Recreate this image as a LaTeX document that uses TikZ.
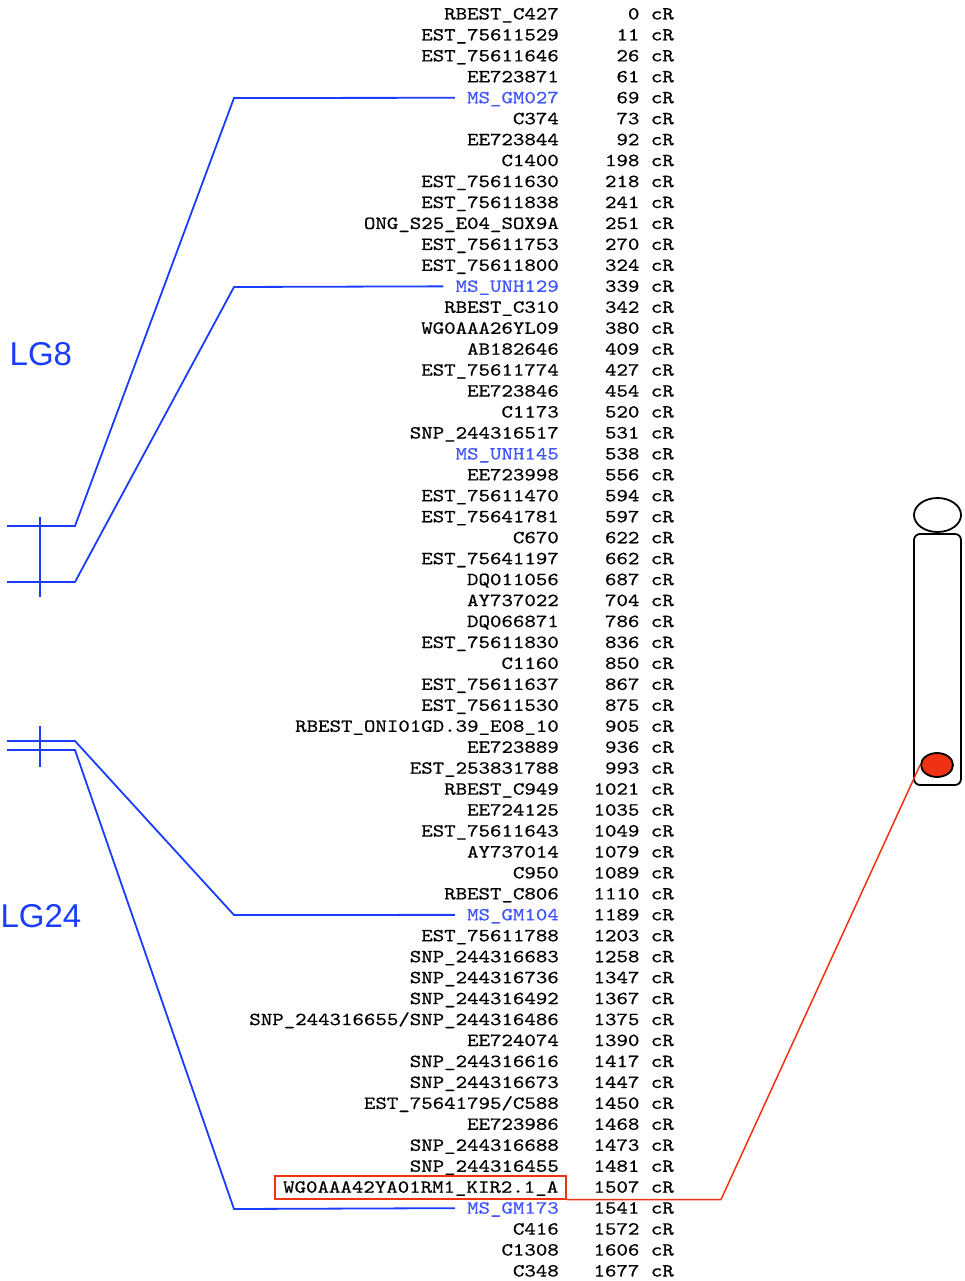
\documentclass[tikz,border=0pt]{standalone}
\usepackage{fontspec}
\usepackage{xcolor}
\usepackage{tikz}
\usetikzlibrary{shapes.geometric, positioning}
\newfontfamily\markfont{lmmono10-regular.otf}[FakeStretch=1.18, FakeBold=0.6]
\newfontfamily\lgfont{Liberation Sans}
\newcommand{\mkslash}{/}
\definecolor{lgblue}{RGB}{25,60,255}
\definecolor{msblue}{RGB}{65,85,255}
\definecolor{kirred}{RGB}{240,50,20}

\begin{document}
\begin{tikzpicture}[
    x=1pt, y=-1pt,
    mk/.style={font=\markfont\fontsize{18.5}{20}\selectfont, inner sep=0pt, text height=13pt, text depth=2pt, anchor=east},
    ms/.style={mk, text=msblue},
    hit/.style={mk, draw=kirred, line width=1.6pt, inner xsep=8pt, inner ysep=4pt, xshift=8pt},
    link/.style={draw=lgblue, line width=1.8pt},
    lgname/.style={font=\lgfont\fontsize{33}{36}\selectfont, text=lgblue, inner sep=0pt, anchor=base west},
    chrom/.style={draw, line width=1.8pt, inner sep=0pt}
]
    \useasboundingbox (0,0) rectangle (964,1281);

    % Markers
    \foreach \nm/\pos/\st [count=\i] in {
        RBEST\_C427/0/mk, EST\_75611529/11/mk, EST\_75611646/26/mk, EE723871/61/mk,
        MS\_GM027/69/ms, C374/73/mk, EE723844/92/mk, C1400/198/mk,
        EST\_75611630/218/mk, EST\_75611838/241/mk, ONG\_S25\_E04\_SOX9A/251/mk, EST\_75611753/270/mk,
        EST\_75611800/324/mk, MS\_UNH129/339/ms, RBEST\_C310/342/mk, WG0AAA26YL09/380/mk,
        AB182646/409/mk, EST\_75611774/427/mk, EE723846/454/mk, C1173/520/mk,
        SNP\_244316517/531/mk, MS\_UNH145/538/ms, EE723998/556/mk, EST\_75611470/594/mk,
        EST\_75641781/597/mk, C670/622/mk, EST\_75641197/662/mk, DQ011056/687/mk,
        AY737022/704/mk, DQ066871/786/mk, EST\_75611830/836/mk, C1160/850/mk,
        EST\_75611637/867/mk, EST\_75611530/875/mk, RBEST\_ONI01GD.39\_E08\_10/905/mk, EE723889/936/mk,
        EST\_253831788/993/mk, RBEST\_C949/1021/mk, EE724125/1035/mk, EST\_75611643/1049/mk,
        AY737014/1079/mk, C950/1089/mk, RBEST\_C806/1110/mk, MS\_GM104/1189/ms,
        EST\_75611788/1203/mk, SNP\_244316683/1258/mk, SNP\_244316736/1347/mk, SNP\_244316492/1367/mk,
        SNP\_244316655\mkslash SNP\_244316486/1375/mk, EE724074/1390/mk, SNP\_244316616/1417/mk, SNP\_244316673/1447/mk,
        EST\_75641795\mkslash C588/1450/mk, EE723986/1468/mk, SNP\_244316688/1473/mk, SNP\_244316455/1481/mk,
        WG0AAA42YA01RM1\_KIR2.1\_A/1507/hit, MS\_GM173/1541/ms, C416/1572/mk, C1308/1606/mk,
        C348/1677/mk} {
        \pgfmathsetmacro{\yy}{14+(\i-1)*20.95}
        \node[\st] (m\i) at (559,\yy) {\nm};
        \node[mk] (v\i) at (674,\yy) {\pos{} cR};
    }

    % Linkage groups
    \node[lgname] (lg8) at (9.5,365) {LG8};
    \node[lgname] (lg24) at (0.4,927) {LG24};
    \coordinate (g8a) at (7,526);
    \coordinate (g8b) at (7,582);
    \coordinate (g24a) at (7,741);
    \coordinate (g24b) at (7,750);
    \draw[link] (40,517) -- (40,597);
    \draw[link] (40,726) -- (40,767);

    % Links to markers
    \draw[link] (g8a) -- (75,526) -- (234,98) -- ([xshift=-12pt]m5.west);
    \draw[link] (g8b) -- (75,582) -- (234,287) -- ([xshift=-12pt]m14.west);
    \draw[link] (g24a) -- (75,741) -- (234,915) -- ([xshift=-12pt]m44.west);
    \draw[link] (g24b) -- (75,750) -- (234,1209) -- ([xshift=-12pt]m58.west);

    % Chromosome
    \node[chrom, ellipse, minimum width=47pt, minimum height=34pt] (knob) at (937.5,515) {};
    \node[chrom, rounded corners=6pt, minimum width=47pt, minimum height=251pt] (body) at (937.5,659.5) {};
    \node[chrom, ellipse, fill=kirred, minimum width=32pt, minimum height=24pt] (kirdot) at (937,765) {};
    \draw[kirred, line width=1.5pt] (m57.south east) -- ++(154,0) -- (kirdot.west);
\end{tikzpicture}
\end{document}
